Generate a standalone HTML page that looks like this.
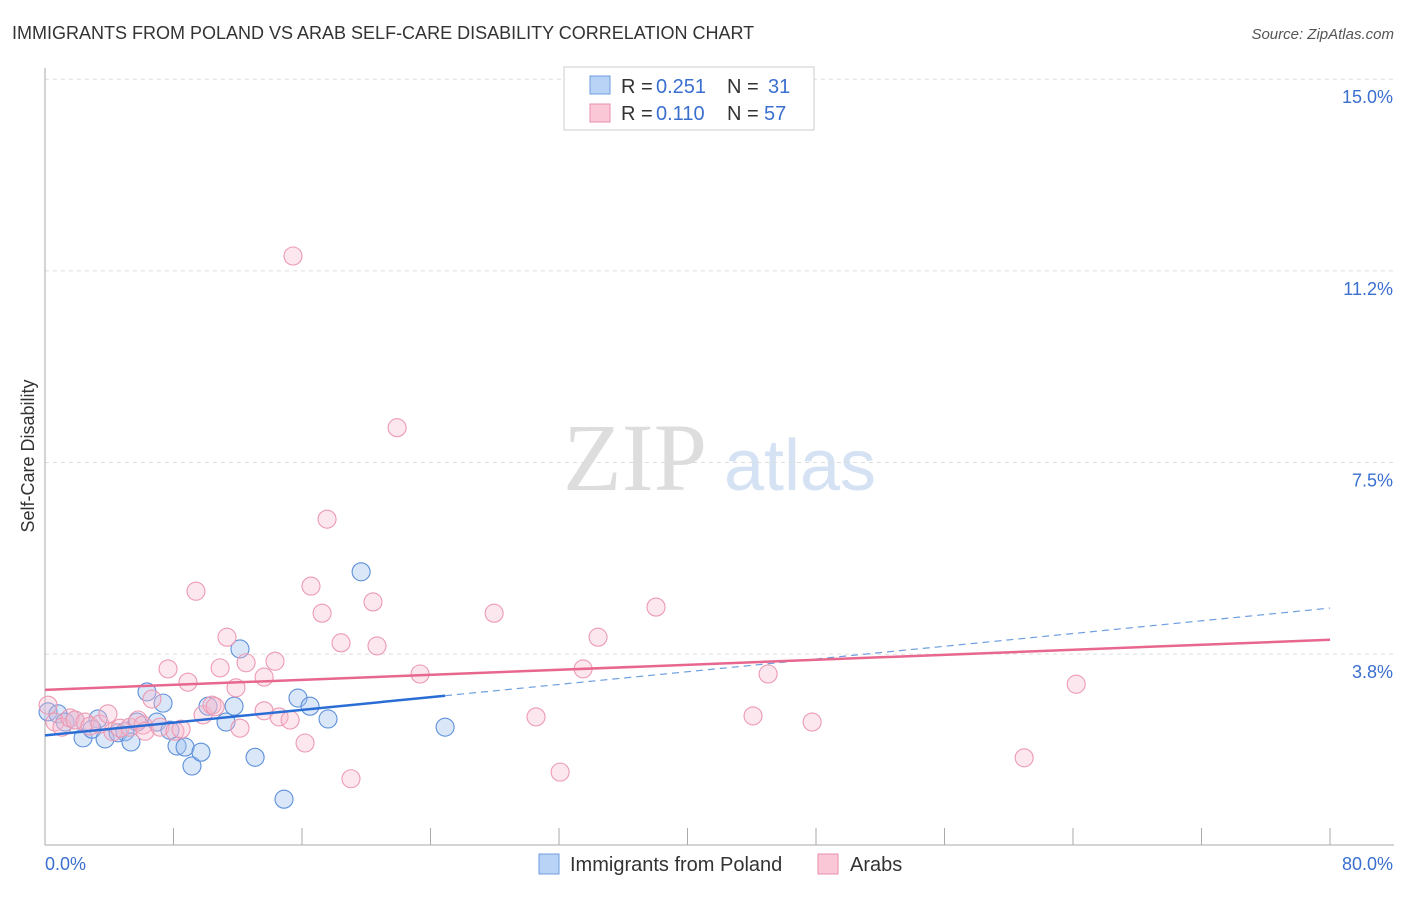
<!DOCTYPE html>
<html><head><meta charset="utf-8"><style>
body{margin:0;background:#fff;font-family:"Liberation Sans",sans-serif;}
</style></head><body>
<svg width="1406" height="892" xmlns="http://www.w3.org/2000/svg" style="font-family:'Liberation Sans',sans-serif">
<text x="12" y="39" font-size="18" fill="#333">IMMIGRANTS FROM POLAND VS ARAB SELF-CARE DISABILITY CORRELATION CHART</text>
<text x="1394" y="39" font-size="15" fill="#555" font-style="italic" text-anchor="end">Source: ZipAtlas.com</text>
<g>
<text x="635" y="490" font-size="96" fill="#ddd" font-family="'Liberation Serif',serif" text-anchor="middle">ZIP</text>
<text x="800" y="490" font-size="72" fill="#d4e2f4" text-anchor="middle">atlas</text>
</g>
<g id="grid"></g>
<g id="axes"></g>
<g id="marks"></g>
<g>
<rect x="564" y="67" width="250" height="63" fill="#fff" stroke="#ccc"/>
<rect x="590" y="76" width="20" height="18" fill="#b8d3f5" stroke="#6f9ee0"/>
<rect x="590" y="104" width="20" height="18" fill="#f9c7d6" stroke="#ea8fab"/>
<text x="621" y="93" font-size="20" fill="#333">R =</text>
<text x="656" y="93" font-size="20" fill="#3a6fd0">0.251</text>
<text x="727" y="93" font-size="20" fill="#333">N =</text>
<text x="768" y="93" font-size="20" fill="#3a6fd0">31</text>
<text x="621" y="120" font-size="20" fill="#333">R =</text>
<text x="656" y="120" font-size="20" fill="#3a6fd0">0.110</text>
<text x="727" y="120" font-size="20" fill="#333">N =</text>
<text x="764" y="120" font-size="20" fill="#3a6fd0">57</text>
</g>
<g>
<rect x="539" y="854" width="20" height="20" fill="#b8d3f5" stroke="#6f9ee0"/>
<text x="570" y="871" font-size="20" fill="#333">Immigrants from Poland</text>
<rect x="818" y="854" width="20" height="20" fill="#f9c7d6" stroke="#ea8fab"/>
<text x="850" y="871" font-size="20" fill="#333">Arabs</text>
</g>
<text transform="translate(34,456) rotate(-90)" font-size="18" fill="#333" text-anchor="middle">Self-Care Disability</text>
</svg>
<script>
const polandX=[0.19,0.81,1.25,1.87,2.37,3.30,2.93,3.74,4.55,4.98,5.35,5.73,6.35,6.97,7.35,7.78,8.22,8.72,9.15,9.71,10.15,11.27,11.77,12.14,13.08,14.88,15.75,16.50,17.62,19.68,24.91];
const polandY=[2.62,2.58,2.42,2.46,2.11,2.48,2.28,2.09,2.21,2.23,2.03,2.42,3.01,2.42,2.79,2.26,1.95,1.93,1.56,1.83,2.73,2.42,2.73,3.85,1.73,0.91,2.89,2.73,2.48,5.36,2.32];
const arabX=[0.19,0.62,1.06,1.56,1.87,2.49,2.80,3.42,3.92,4.23,4.67,5.29,5.79,6.10,6.23,6.66,7.16,7.66,8.09,8.47,8.90,9.40,9.84,10.40,10.59,10.90,11.33,11.89,12.14,12.52,13.64,13.64,14.32,14.57,15.26,15.44,16.19,16.56,17.25,17.56,18.43,19.05,20.42,20.67,21.92,23.35,27.96,30.57,32.07,33.50,34.43,38.04,44.08,45.02,47.76,60.96,64.20];
const arabY=[2.75,2.42,2.32,2.50,2.46,2.42,2.34,2.38,2.58,2.23,2.30,2.32,2.46,2.36,2.24,2.87,2.32,3.46,2.24,2.28,3.20,4.98,2.56,2.75,2.72,3.48,4.08,3.09,2.30,3.58,3.30,2.64,3.61,2.52,2.46,11.54,2.01,5.08,4.55,6.39,3.97,1.31,4.77,3.91,8.18,3.36,4.55,2.52,1.44,3.46,4.08,4.67,2.54,3.36,2.42,1.72,3.16];
const polandTrend=[2.16,4.65];
const arabTrend=[3.05,4.03];
const yTicks=[3.75,7.5,11.25,15];
const yTickLabels=["3.8%","7.5%","11.2%","15.0%"];
const xTicks=[0,8,16,24,32,40,48,56,64,72,80];
const NS="http://www.w3.org/2000/svg";
const sx=v=>45+v/80*1285;
const sy=v=>845.7-v*51.1;
function mk(t,a,p){const e=document.createElementNS(NS,t);for(const k in a)e.setAttribute(k,a[k]);if(p)p.appendChild(e);return e;}
const grid=document.getElementById('grid'),axes=document.getElementById('axes'),marks=document.getElementById('marks');
yTicks.forEach((v,i)=>{
 const l=mk('line',{x1:45,x2:1394,y1:sy(v),y2:sy(v),stroke:'#ddd','stroke-dasharray':'4,4'},grid);
 
 
 const t=mk('text',{x:1393,y:sy(v)+24,'font-size':18,fill:'#3a6fd0','text-anchor':'end'},axes);
 t.textContent=yTickLabels[i];
 
 
});
const ya=mk('line',{x1:45,x2:45,y1:68,y2:845,stroke:'#aaa'},axes);


const xa=mk('line',{x1:45,x2:1394,y1:845,y2:845,stroke:'#aaa'},axes);


xTicks.forEach(v=>{
 const l=mk('line',{x1:sx(v),x2:sx(v),y1:828,y2:845,stroke:'#aaa'},axes);
 
 
});
const x0=mk('text',{x:45,y:870,'font-size':18,fill:'#3a6fd0'},axes);x0.textContent='0.0%';


const x1=mk('text',{x:1393,y:870,'font-size':18,fill:'#3a6fd0','text-anchor':'end'},axes);x1.textContent='80.0%';


polandX.forEach((x,i)=>{
 const c=mk('circle',{cx:sx(x),cy:sy(polandY[i]),r:9,fill:'rgba(160,195,240,0.4)',stroke:'#5e90da','stroke-width':1.1},marks);
 
 
});
arabX.forEach((x,i)=>{
 const c=mk('circle',{cx:sx(x),cy:sy(arabY[i]),r:9,fill:'rgba(248,185,205,0.35)',stroke:'#ec9ab3','stroke-width':1.1},marks);
 
 
});
const pAt=x=>polandTrend[0]+(polandTrend[1]-polandTrend[0])*x/80;
const aAt=x=>arabTrend[0]+(arabTrend[1]-arabTrend[0])*x/80;
const pe=24.91;
const t1=mk('line',{x1:sx(0),y1:sy(pAt(0)),x2:sx(pe),y2:sy(pAt(pe)),stroke:'#2a6dd4','stroke-width':2.5},marks);


const t2=mk('line',{x1:sx(pe),y1:sy(pAt(pe)),x2:sx(80),y2:sy(pAt(80)),stroke:'#6f9ee0','stroke-width':1.2,'stroke-dasharray':'7,5'},marks);


const t3=mk('line',{x1:sx(0),y1:sy(aAt(0)),x2:sx(80),y2:sy(aAt(80)),stroke:'#e8678f','stroke-width':2.5},marks);


</script>
</body></html>
